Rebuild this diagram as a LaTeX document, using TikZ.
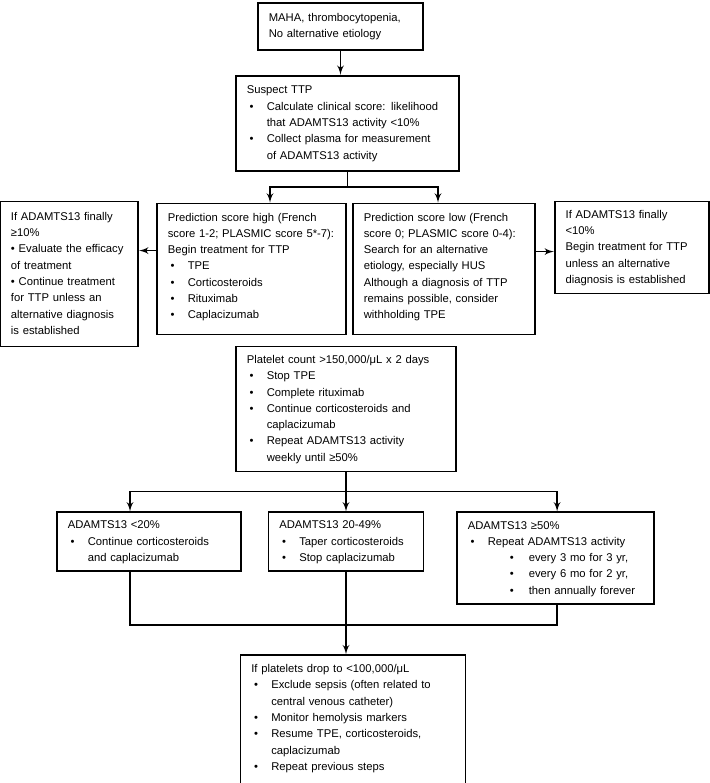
\documentclass[tikz,border=0pt]{standalone}
\usepackage{fontspec}
\setmainfont{Liberation Sans}
\usepackage{tikz}
\usetikzlibrary{arrows,positioning}
\newcommand{\boxhead}[1]{\multicolumn{2}{@{}l@{}}{#1}}

\begin{document}
\begin{tikzpicture}[
    auto,
    >=latex',
    font=\fontsize{8}{11.6}\selectfont,
    block/.style={
		rectangle,
		draw=black,
		line width=1.3pt,
		inner xsep=0.27cm,
		inner ysep=0.05cm,
		fill=white
	},
	link/.style={
		line width=1.3pt
	}
  ]
  \useasboundingbox (0,0) rectangle (17.725,-19.575);
    % We start with the first two blocks

  \node [block, text width=3.585cm, minimum height=1.175cm, anchor=north] (maha) at (8.5125,-0.05)
 {%
 \begin{tabular}{@{}l@{}}
  MAHA, thrombocytopenia,\\
  No alternative etiology
 \end{tabular}
 };

  \node [block, text width=5.035cm, minimum height=2.375cm, below=0.6cm of maha, xshift=0.175cm] (suspect)
 {%
 \begin{tabular}{@{\hspace{0.07cm}}p{0.43cm}@{}l@{}}
  \boxhead{Suspect TTP}\\
  \textbullet & Calculate clinical score: likelihood\\
   & that ADAMTS13 activity <10\%\\
  \textbullet & Collect plasma for measurement\\
   & of ADAMTS13 activity
 \end{tabular}
 };

    % prediction scores
  \node [block, text width=4.185cm, minimum height=3.275cm, below=0.775cm of suspect, xshift=-2.4cm] (high)
 {%
 \begin{tabular}{@{\hspace{0.07cm}}p{0.43cm}@{}l@{}}
  \boxhead{Prediction score high (French}\\
  \boxhead{score 1-2; PLASMIC score 5*-7):}\\
  \boxhead{Begin treatment for TTP}\\
  \textbullet & TPE\\
  \textbullet & Corticosteroids\\
  \textbullet & Rituximab\\
  \textbullet & Caplacizumab\\[0.12cm]
 \end{tabular}
 };

  \node [block, text width=4.01cm, minimum height=3.275cm, below=0.775cm of suspect, xshift=2.4125cm] (low)
 {%
 \begin{tabular}{@{}l@{}}
  Prediction score low (French\\
  score 0; PLASMIC score 0-4):\\
  Search for an alternative\\
  etiology, especially HUS\\
  Although a diagnosis of TTP\\
  remains possible, consider\\
  withholding TPE\\[0.12cm]
 \end{tabular}
 };

  \node [block, text width=2.91cm, minimum height=3.625cm, left=0.425cm of high, yshift=-0.125cm] (lfinal)
 {%
 \begin{tabular}{@{}l@{}}
  If ADAMTS13 finally\\
  ≥10\%\\
  \textbullet{} Evaluate the efficacy\\
  of treatment\\
  \textbullet{} Continue treatment\\
  for TTP unless an\\
  alternative diagnosis\\
  is established
 \end{tabular}
 };

  \node [block, text width=3.31cm, minimum height=2.3cm, right=0.45cm of low, yshift=0.5375cm] (rfinal)
 {%
 \begin{tabular}{@{}l@{}}
  If ADAMTS13 finally\\
  <10\%\\
  Begin treatment for TTP\\
  unless an alternative\\
  diagnosis is established
 \end{tabular}
 };

    % platelet recovery
  \node [block, text width=4.96cm, minimum height=3.125cm, below=4.35cm of suspect, xshift=-0.0375cm] (platelet)
 {%
 \begin{tabular}{@{\hspace{0.07cm}}p{0.43cm}@{}l@{}}
  \boxhead{Platelet count >150,000/μL x 2 days}\\
  \textbullet & Stop TPE\\
  \textbullet & Complete rituximab\\
  \textbullet & Continue corticosteroids and\\
   & caplacizumab\\
  \textbullet & Repeat ADAMTS13 activity\\
   & weekly until ≥50\%
 \end{tabular}
 };

  \node [block, text width=4.06cm, minimum height=1.475cm, below=0.975cm of platelet, xshift=-4.925cm] (adam1)
 {%
 \begin{tabular}{@{\hspace{0.07cm}}p{0.43cm}@{}l@{}}
  \boxhead{ADAMTS13 <20\%}\\
  \textbullet & Continue corticosteroids\\
   & and caplacizumab
 \end{tabular}
 };

  \node [block, text width=3.335cm, minimum height=1.475cm, below=0.975cm of platelet] (adam2)
 {%
 \begin{tabular}{@{\hspace{0.07cm}}p{0.43cm}@{}l@{}}
  \boxhead{ADAMTS13 20-49\%}\\
  \textbullet & Taper corticosteroids\\
  \textbullet & Stop caplacizumab
 \end{tabular}
 };

  \node [block, text width=4.385cm, minimum height=2.3cm, below=0.975cm of platelet, xshift=5.2375cm] (adam3)
 {%
 \begin{tabular}{@{\hspace{0.07cm}}p{0.43cm}@{}l@{}}
  \boxhead{ADAMTS13 ≥50\%}\\
  \textbullet & Repeat ADAMTS13 activity\\
   & \hspace{0.55cm}\makebox[0.475cm][l]{\textbullet}every 3 mo for 3 yr,\\
   & \hspace{0.55cm}\makebox[0.475cm][l]{\textbullet}every 6 mo for 2 yr,\\
   & \hspace{0.55cm}\makebox[0.475cm][l]{\textbullet}then annually forever
 \end{tabular}
 };

  \node [block, text width=5.085cm, minimum height=3.375cm, below=2.05cm of adam2, xshift=0.175cm] (drop)
 {%
 \begin{tabular}{@{\hspace{0.07cm}}p{0.43cm}@{}l@{}}
  \boxhead{If platelets drop to <100,000/μL}\\
  \textbullet & Exclude sepsis (often related to\\
   & central venous catheter)\\
  \textbullet & Monitor hemolysis markers\\
  \textbullet & Resume TPE, corticosteroids,\\
   & caplacizumab\\
  \textbullet & Repeat previous steps\\[0.22cm]
 \end{tabular}
 };

    % connectors
  \draw [link,->] (maha) -- (maha |- suspect.north);
  \coordinate (split1) at ([yshift=-0.375cm]suspect.south);
  \draw [link] (suspect.south) -- (split1);
  \draw [link,->] (split1) -| ([xshift=0.4625cm]high.north);
  \draw [link,->] (split1) -| ([xshift=-0.15cm]low.north);
  \draw [link,->] ([yshift=0.4625cm]high.west) -- ([yshift=0.4625cm]high.west -| lfinal.east);
  \draw [link,->] ([yshift=0.4375cm]low.east) -- ([yshift=0.4375cm]low.east -| rfinal.west);

  \coordinate (split2) at ([yshift=-0.475cm]platelet.south);
  \draw [link] (platelet.south) -- (split2);
  \draw [link,->] (split2) -| ([xshift=-0.475cm]adam1.north);
  \draw [link,->] (split2) -- (split2 |- adam2.north);
  \draw [link,->] (split2) -| ([xshift=0.04cm]adam3.north);
  \coordinate (join) at ([yshift=-1.325cm]adam2.south);
  \draw [link] ([xshift=-0.475cm]adam1.south) |- (join);
  \draw [link] ([xshift=0.04cm]adam3.south) |- (join);
  \draw [link,->] (adam2.south) -- (join) -- (join |- drop.north);

\end{tikzpicture}
\end{document}
